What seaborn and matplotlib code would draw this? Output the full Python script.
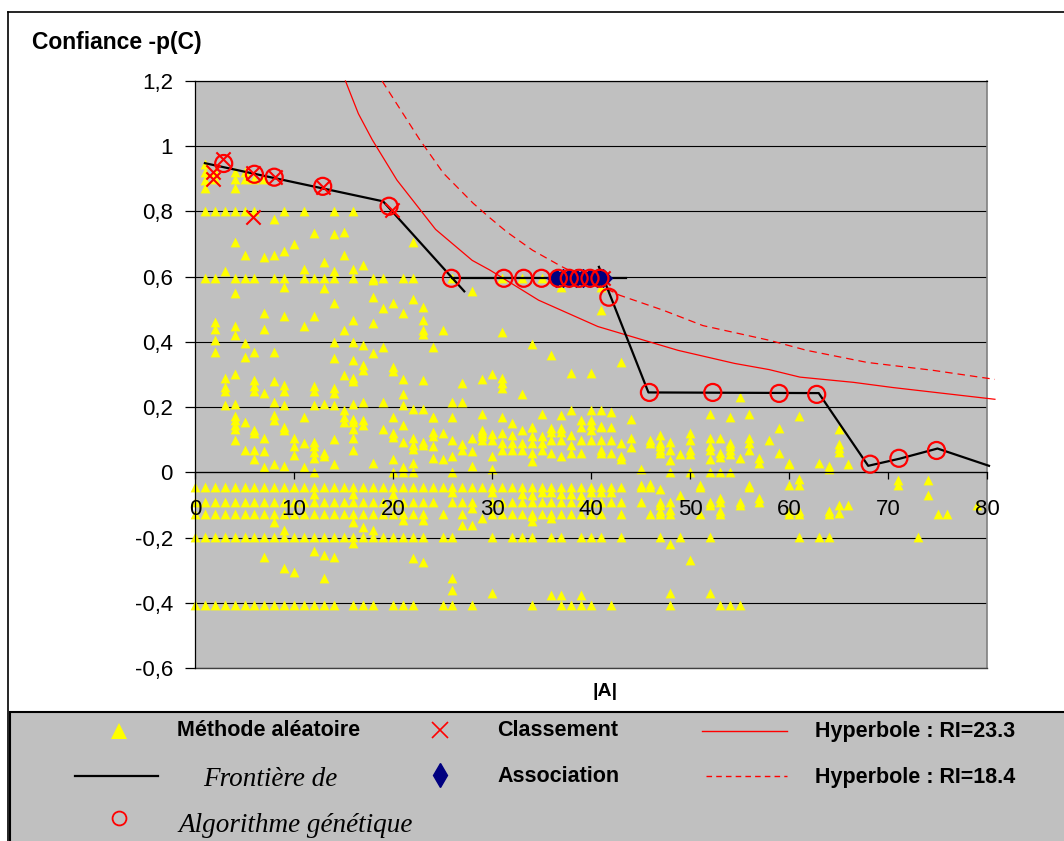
import matplotlib
matplotlib.use("Agg")
import matplotlib.pyplot as plt
from matplotlib.lines import Line2D
from matplotlib.patches import Rectangle
import seaborn as sns

plt.rcParams['font.family'] = ['Liberation Sans', 'DejaVu Sans']

# ---- data ----
x_ticks = [0, 10, 20, 30, 40, 50, 60, 70, 80]
y_ticks = [-0.6, -0.4, -0.2, 0, 0.2, 0.4, 0.6, 0.8, 1.0, 1.2]
y_labels = ['-0,6', '-0,4', '-0,2', '0', '0,2', '0,4', '0,6', '0,8', '1', '1,2']

# "Methode aleatoire": rows of points sharing one confidence value
row_080 = (0.80, [1, 2, 3, 4, 5, 6, 9, 11, 14, 16])
row_060 = (0.595, [1, 2, 4, 5, 6, 8, 9, 11, 12, 13, 14, 16, 18, 19, 21, 22, 26, 31, 33, 35])
row_a = (-0.045, [0, 1, 2, 3, 4, 5, 6, 7, 8, 9, 10, 11, 12, 13, 14, 15, 16, 17, 18, 19, 20,
                  21, 22, 23, 24, 25, 26, 27, 28, 29, 30, 31, 32, 33, 34, 35, 36, 37, 38, 39,
                  40, 41, 42, 43, 45, 46, 51, 56])
row_b = (-0.09, [0, 1, 2, 3, 4, 5, 6, 7, 8, 9, 10, 11, 12, 13, 14, 15, 16, 17, 18, 19, 20,
                 21, 22, 23, 24, 26, 27, 28, 30, 31, 32, 33, 34, 35, 36, 37, 38, 39, 40, 41,
                 42, 43, 45, 47, 48, 52, 53, 55, 57])
row_c = (-0.128, [0, 1, 2, 3, 4, 5, 6, 7, 8, 9, 10, 11, 12, 13, 14, 15, 16, 17, 18, 19, 20,
                  21, 22, 23, 25, 27, 30, 31, 32, 33, 34, 35, 36, 37, 38, 39, 40, 41, 43, 46,
                  47, 48, 51, 53, 60, 61, 64, 75, 76])
row_d = (-0.197, [0, 1, 2, 3, 4, 5, 6, 7, 8, 9, 10, 11, 12, 13, 14, 15, 16, 17, 18, 19, 20,
                  21, 22, 23, 25, 26, 30, 32, 33, 34, 36, 37, 39, 40, 41, 43, 47, 49, 52, 61,
                  63, 64, 73])
row_e = (-0.408, [0, 1, 2, 3, 4, 5, 6, 7, 8, 9, 10, 11, 12, 13, 14, 16, 17, 18, 20, 21, 22,
                  25, 26, 28, 34, 37, 38, 39, 40, 42, 48, 53, 54, 55])

# scattered points (|A|, confidence)
pts_upper = [(1, .945), (1, .92), (1, .896), (1, .871), (2, .92), (2, .9), (4, .92), (4, .9),
             (4, .871), (5, .92), (5, .9), (6, .9), (7, .9), (8, .776),
             (4, .705), (5, .665), (7, .66), (8, .665), (9, .68), (10, .70), (12, .733),
             (14, .73), (15, .736), (11, .622), (13, .644), (14, .617), (15, .665), (16, .622),
             (17, .635), (3, .617), (22, .705), (18, .589), (9, .568), (13, .564), (4, .549),
             (18, .537), (22, .53), (20, .518), (19, .505), (21, .49), (23, .508), (7, .488),
             (9, .48), (12, .48), (14, .518), (16, .466), (18, .457), (23, .466), (2, .46),
             (4, .45), (11, .45), (15, .436), (23, .436), (25, .436), (2, .44), (4, .42),
             (2, .405), (2, .368), (5, .396), (5, .353), (6, .368), (7, .44), (8, .368),
             (14, .40), (14, .352), (16, .40), (16, .343), (17, .39), (17, .33), (17, .315),
             (18, .365), (19, .384), (20, .322), (20, .31), (24, .384), (23, .425), (28, .555),
             (41, .497), (31, .43), (34, .395), (36, .36), (43, .337), (37, .567), (41, .567)]

pts_mid_left = [(3, .288), (3, .262), (3, .25), (3, .205), (4, .303), (4, .21), (6, .283),
                (6, .265), (6, .25), (7, .242), (8, .28), (8, .215), (9, .267), (9, .25),
                (9, .205), (12, .264), (12, .25), (12, .205), (13, .21), (14, .258), (14, .243),
                (14, .205), (15, .30), (16, .29), (16, .28), (16, .21), (17, .215), (19, .215),
                (21, .287), (21, .24), (21, .205), (22, .193), (23, .193), (23, .282), (24, .17),
                (26, .215), (26, .17), (27, .273), (27, .215), (29, .285), (30, .303), (29, .18),
                (4, .172), (4, .16), (4, .145), (4, .133), (4, .10), (5, .153), (6, .13),
                (6, .12), (5, .07), (6, .07), (7, .104), (7, .065), (6, .04), (7, .015),
                (8, .175), (8, .16), (8, .025), (9, .138), (9, .13), (9, .02), (10, .104),
                (10, .08), (11, .09), (10, .052), (11, .015), (12, .093), (12, .08), (12, .062),
                (12, .045), (13, .058), (13, .05), (14, .103), (14, .025), (15, .19), (15, .17),
                (15, .155), (16, .165), (16, .155), (16, .133), (16, .105), (16, .07), (17, .16),
                (17, .145), (18, .03), (19, .133), (20, .17), (20, .12), (20, .108), (20, .04),
                (21, .145), (21, .092), (21, .015), (22, .105), (22, .083), (22, .073), (22, .03),
                (23, .093), (23, .085), (24, .125), (24, .11), (24, .08), (24, .043), (25, .12),
                (25, .04), (26, .1), (26, .05), (27, .087), (27, .07), (28, .105), (28, .02),
                (29, .11), (29, .1), (30, .1), (30, .01), (11, .17), (12, .0), (20, .0),
                (21, .0), (22, .0), (26, .0), (29, .12), (28, .065)]

pts_mid_right = [(31, .29), (31, .275), (31, .258), (33, .24), (38, .305), (40, .305), (31, .17),
                 (32, .15), (34, .138), (35, .18), (37, .175), (38, .19), (39, .16), (39, .14),
                 (40, .19), (40, .16), (41, .19), (42, .184), (44, .165), (41, .14), (42, .14),
                 (29, .13), (30, .118), (31, .12), (32, .115), (33, .13), (34, .11), (35, .11),
                 (36, .135), (37, .135), (38, .115), (41, .1), (42, .1), (43, .09), (44, .105),
                 (31, .09), (32, .09), (33, .09), (34, .09), (35, .09), (36, .1), (37, .1),
                 (38, .085), (39, .098), (40, .098), (30, .05), (34, .06), (36, .06), (37, .05),
                 (38, .06), (39, .06), (41, .06), (42, .06), (43, .05), (31, .07), (32, .07),
                 (33, .07), (34, .035), (35, .07), (36, .125), (37, .125), (40, .145), (40, .13),
                 (41, .143), (43, .04), (44, .077), (34, .14), (41, .067), (24, .17)]

pts_right = [(46, .098), (46, .09), (47, .113), (47, .09), (47, .08), (47, .07), (47, .06),
             (48, .093), (48, .07), (48, .038), (49, .057), (50, .12), (50, .1), (50, .07),
             (50, .055), (52, .18), (52, .105), (52, .08), (52, .067), (52, .04), (53, .104),
             (53, .06), (53, .046), (54, .17), (54, .09), (54, .08), (54, .07), (54, .055),
             (55, .045), (55, .23), (56, .18), (56, .105), (56, .09), (56, .07), (57, .043),
             (57, .03), (58, .098), (59, .135), (59, .058), (60, .03), (60, .026), (61, .172),
             (63, .03), (64, .02), (64, .01), (65, .132), (65, .086), (65, .075), (65, .063),
             (66, .025), (48, .0), (50, .0), (52, .0), (53, .0), (54, .0), (45, .01)]

pts_negative = [(45, -.04), (46, -.037), (47, -.05), (48, -.117), (47, -.1), (47, -.12),
                (49, -.07), (51, -.04), (52, -.1), (53, -.08), (53, -.12), (55, -.1), (56, -.04),
                (57, -.08), (60, -.04), (61, -.02), (61, -.04), (60, -.12), (61, -.12),
                (64, -.12), (65, -.1), (65, -.125), (66, -.1), (71, -.025), (71, -.04),
                (74, -.025), (74, -.07), (79, -.1), (48, -.22), (50, -.27), (48, -.37),
                (52, -.37), (8, -.153), (9, -.178), (16, -.153), (17, -.168), (18, -.178),
                (21, -.147), (23, -.147), (16, -.218), (7, -.26), (9, -.294), (10, -.307),
                (12, -.242), (13, -.252), (14, -.26), (13, -.325), (22, -.264), (23, -.275),
                (26, -.325), (26, -.362), (30, -.37), (36, -.377), (37, -.377), (39, -.377),
                (27, -.16), (28, -.163), (34, -.135), (12, -.065), (16, -.065), (20, -.065),
                (26, -.06), (30, -.06), (33, -.065), (34, -.07), (36, -.06), (37, -.065),
                (38, -.065), (40, -.06), (41, -.06), (42, -.06), (35, -.06), (39, -.07),
                (29, -.14), (34, -.15), (36, -.14), (28, -.11)]

# "Frontiere de l'algorithme genetique" (three drawn segments)
front1_x = [1, 19, 27.2]
front1_y = [0.948, 0.831, 0.555]
front2_x = [26, 43.5]
front2_y = [0.595, 0.595]
front3_x = [40.8, 45.8, 63, 68, 71.2, 75, 80.2]
front3_y = [0.63, 0.245, 0.243, 0.02, 0.042, 0.073, 0.02]

# genetic algorithm solutions (open circles)
ga_x = [2.9, 6, 8, 12.9, 19.6, 25.9, 31.2, 33.2, 35, 36.7, 37.8, 38.8, 39.9, 40.9, 41.8,
        45.9, 52.3, 59, 62.8, 68.2, 71.1, 74.9]
ga_y = [0.947, 0.914, 0.905, 0.877, 0.816, 0.595, 0.595, 0.595, 0.595, 0.595, 0.595, 0.595,
        0.595, 0.595, 0.537, 0.245, 0.245, 0.242, 0.239, 0.025, 0.043, 0.067]

# Classement (crosses)
cls_x = [1.8, 1.8, 2.8, 5.9, 5.9, 8.1, 12.9, 19.9, 41.2]
cls_y = [0.92, 0.9, 0.96, 0.917, 0.782, 0.905, 0.874, 0.804, 0.595]

# Association (diamonds)
asso_x = [36.5, 37.2, 37.8, 38.5, 39.2, 39.9, 40.6, 41.2]
asso_y = [0.595, 0.595, 0.595, 0.595, 0.595, 0.595, 0.595, 0.595]

# hyperbolas
hyp1_x = [15.2, 16.5, 17.9, 20.4, 24.3, 28, 29.8, 34.7, 40.7, 48.8, 54.5, 58, 61.1, 66.5, 70.5, 80.8]
hyp1_y = [1.2, 1.1, 1.02, 0.896, 0.745, 0.65, 0.62, 0.528, 0.447, 0.374, 0.334, 0.315, 0.292,
          0.276, 0.26, 0.224]
hyp2_x = [18.9, 22.7, 25.1, 28.1, 29.8, 31.5, 34.1, 37.1, 42.9, 47.3, 51.3, 58, 61.8, 67.9, 74.5, 80.8]
hyp2_y = [1.2, 1.02, 0.917, 0.825, 0.78, 0.737, 0.681, 0.63, 0.543, 0.497, 0.45, 0.405, 0.374,
          0.337, 0.313, 0.285]

# ---- gather the random-method points ----
rand_x, rand_y = [], []
for yv, xs in [row_080, row_060, row_a, row_b, row_c, row_d, row_e]:
    rand_x += xs
    rand_y += [yv] * len(xs)
for pts in [pts_upper, pts_mid_left, pts_mid_right, pts_right, pts_negative]:
    rand_x += [p[0] for p in pts]
    rand_y += [p[1] for p in pts]

W, H = 1064, 841
fig = plt.figure(figsize=(W / 100, H / 100), dpi=100)
fig.patch.set_facecolor('white')


def fx(px):
    return px / W


def fy(py):
    return 1 - py / H


ax = fig.add_axes([fx(195), fy(668), (987 - 195) / W, (668 - 81) / H])
ax.set_facecolor('#C0C0C0')

sns.scatterplot(x=rand_x, y=rand_y, ax=ax, marker='^', color='#FFFF00', s=50,
                linewidth=0, zorder=2, clip_on=False, legend=False)
sns.lineplot(x=hyp1_x, y=hyp1_y, ax=ax, sort=False, estimator=None, color='#FF0000',
             lw=0.9, zorder=3)
l2 = sns.lineplot(x=hyp2_x, y=hyp2_y, ax=ax, sort=False, estimator=None, color='#FF0000',
                  lw=0.9, zorder=3)
l2.lines[-1].set_dashes([6, 4])
for lx, ly in [(front1_x, front1_y), (front2_x, front2_y), (front3_x, front3_y)]:
    sns.lineplot(x=lx, y=ly, ax=ax, sort=False, estimator=None, color='black', lw=1.6, zorder=4)
for ln in ax.lines:
    ln.set_clip_on(False)
sns.scatterplot(x=cls_x, y=cls_y, ax=ax, marker='x', color='#FF0000', s=105, linewidth=1.5,
                zorder=5, legend=False)
sns.scatterplot(x=asso_x, y=asso_y, ax=ax, marker='D', color='#000080', s=85,
                edgecolor='#000080', zorder=5, legend=False)
sns.scatterplot(x=ga_x, y=ga_y, ax=ax, marker='o', s=150, facecolors='none',
                edgecolor='#FF0000', linewidth=1.6, zorder=6, legend=False)

ax.set_xlim(0, 80)
ax.set_ylim(-0.6, 1.2)
ax.set_xticks(x_ticks)
ax.set_xticklabels([str(v) for v in x_ticks])
ax.set_yticks(y_ticks)
ax.set_yticklabels(y_labels)
ax.set_xlabel('')
ax.set_ylabel('')
ax.spines['bottom'].set_position(('data', 0))
for side in ['left', 'bottom', 'top']:
    ax.spines[side].set_color('black')
    ax.spines[side].set_linewidth(0.9)
ax.spines['right'].set_color('#808080')
ax.spines['right'].set_linewidth(1.2)
ax.spines['right'].set_zorder(1.6)
ax.tick_params(axis='y', direction='out', length=7, width=0.9, pad=9, labelsize=16)
ax.tick_params(axis='x', direction='out', length=5, width=0.9, pad=14, labelsize=16)
ax.yaxis.grid(True, color='black', lw=0.8)
ax.xaxis.grid(False)
# x tick labels sit on top of the triangles, horizontal grid stays beneath them
ax.xaxis.set_zorder(7)
ax.axhline(-0.6, color='#404040', lw=1.0, clip_on=False)

fig.text(fx(32), fy(42), 'Confiance -p(C)', fontsize=16.5, fontweight='bold', va='center', ha='left')
fig.text(fx(605), fy(692), '|A|', fontsize=14, fontweight='bold', va='center', ha='center')

# outer frame
fig.add_artist(Line2D([fx(8), 1.0], [fy(12), fy(12)], color='black', lw=1.2,
                      transform=fig.transFigure))
fig.add_artist(Line2D([fx(8), fx(8)], [0, fy(12)], color='black', lw=1.2,
                      transform=fig.transFigure))

# legend box
fig.add_artist(Rectangle((fx(10), -0.01), 1.0, fy(712) + 0.01, transform=fig.transFigure,
                         facecolor='#C0C0C0', edgecolor='black', lw=1.5))


def leg_marker(px, py, **kw):
    fig.add_artist(Line2D([fx(px)], [fy(py)], transform=fig.transFigure, linestyle='none', **kw))


def leg_line(px0, px1, py, **kw):
    fig.add_artist(Line2D([fx(px0), fx(px1)], [fy(py), fy(py)], transform=fig.transFigure, **kw))


bold = dict(fontsize=15.5, fontweight='bold', va='center', ha='left')
ital = dict(fontsize=19.5, style='italic', family=['Liberation Serif', 'DejaVu Serif'],
            va='center', ha='left')

leg_marker(119, 731, marker='^', color='#FFFF00', markersize=12, markeredgewidth=0)
fig.text(fx(177), fy(731), 'Méthode aléatoire', **bold)
leg_marker(440, 730, marker='x', color='#FF0000', markersize=11, markeredgewidth=1.2)
fig.text(fx(497), fy(731), 'Classement', **bold)
leg_line(702, 787, 731, color='#FF0000', lw=1.0)
fig.text(fx(815), fy(732), 'Hyperbole : RI=23.3', **bold)

leg_line(75, 158, 776, color='black', lw=1.6)
fig.text(fx(203), fy(779), 'Frontière de', **ital)
leg_marker(440, 775, marker='d', color='#000080', markersize=12)
fig.text(fx(497), fy(776), 'Association', **bold)
leg_line(706, 787, 776, color='#FF0000', lw=1.0, dashes=[4, 3])
fig.text(fx(815), fy(777), 'Hyperbole : RI=18.4', **bold)

leg_marker(119, 818, marker='o', markerfacecolor='none', markeredgecolor='#FF0000',
           markersize=10, markeredgewidth=1.3)
fig.text(fx(178), fy(825), 'Algorithme génétique', **ital)

fig.savefig('out.png', dpi=100)
